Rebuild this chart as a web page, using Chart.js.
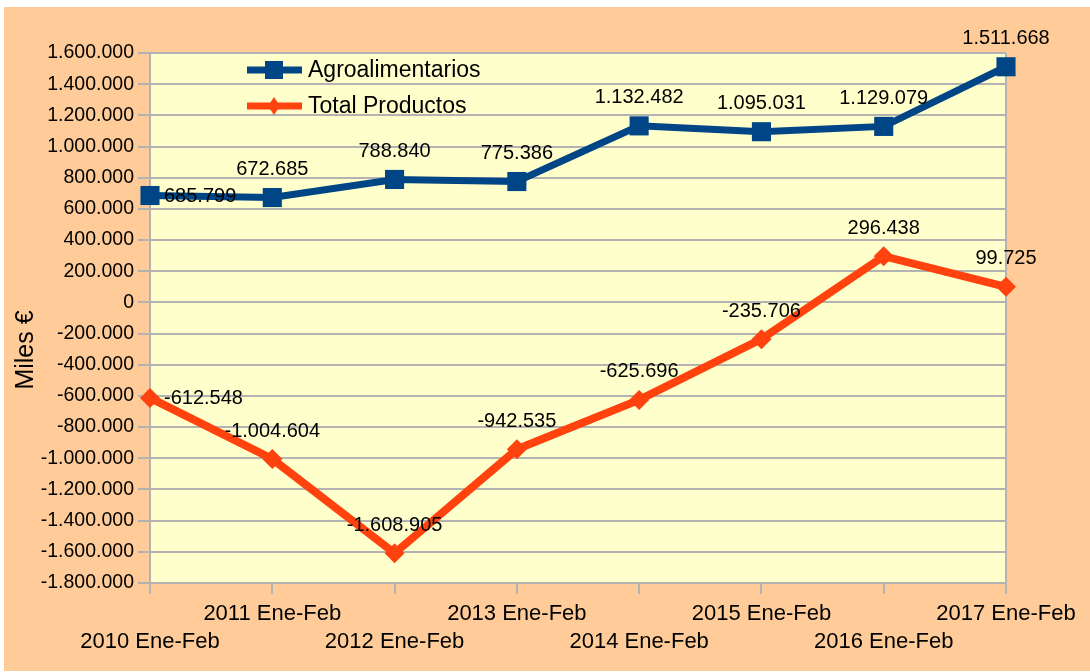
<!DOCTYPE html>
<html><head><meta charset="utf-8">
<script src="https://cdn.jsdelivr.net/npm/chart.js@4"></script>
<style>html,body{margin:0;padding:0;background:#fff;overflow:hidden}#wrap{width:1090px;height:672px;position:relative}</style>
</head><body><div id="wrap"><canvas id="c" width="1090" height="672"></canvas></div>
<script>
const categories = ['2010 Ene-Feb','2011 Ene-Feb','2012 Ene-Feb','2013 Ene-Feb','2014 Ene-Feb','2015 Ene-Feb','2016 Ene-Feb','2017 Ene-Feb'];
const agroalimentarios = [685799, 672685, 788840, 775386, 1132482, 1095031, 1129079, 1511668];
const totalProductos = [-612548, -1004604, -1608905, -942535, -625696, -235706, 296438, 99725];
const seriesNames = ['Agroalimentarios', 'Total Productos'];
const yMin = -1800000, yMax = 1600000, yStep = 200000;
const yAxisTitle = 'Miles €';

const FONT = "'Liberation Sans', Arial, sans-serif";
const BLUE = '#004586', ORANGE = '#ff420e', GRID = '#b3b3b3';

function fmt(v) {
  const neg = v < 0; let s = String(Math.round(Math.abs(v)));
  s = s.replace(/\B(?=(\d{3})+(?!\d))/g, '.');
  return (neg ? '-' : '') + s;
}

const bgPlugin = {
  id: 'bg',
  beforeDraw(chart) {
    const {ctx, chartArea: a} = chart;
    ctx.save();
    ctx.fillStyle = '#ffffff'; ctx.fillRect(0, 0, chart.width, chart.height);
    ctx.fillStyle = '#ffcc99'; ctx.fillRect(4, 7, chart.width - 4, chart.height - 8);
    ctx.fillStyle = '#ffffcc'; ctx.fillRect(a.left, a.top, a.right - a.left, a.bottom - a.top);
    ctx.restore();
  },
  beforeDatasetsDraw(chart) {
    const {ctx, chartArea: a} = chart;
    ctx.save();
    ctx.strokeStyle = GRID; ctx.lineWidth = 2;
    ctx.beginPath(); ctx.moveTo(a.right, a.top); ctx.lineTo(a.right, a.bottom); ctx.stroke();
    ctx.restore();
  }
};

const labelPlugin = {
  id: 'vals',
  afterDatasetsDraw(chart) {
    const ctx = chart.ctx;
    ctx.save();
    ctx.font = '20px ' + FONT; ctx.fillStyle = '#000';
    chart.data.datasets.forEach((ds, di) => {
      const meta = chart.getDatasetMeta(di);
      meta.data.forEach((pt, i) => {
        const t = fmt(ds.data[i]);
        if (i === 0) {
          ctx.textAlign = 'left'; ctx.textBaseline = 'middle';
          ctx.fillText(t, pt.x + 14, pt.y + 1);
        } else {
          ctx.textAlign = 'center'; ctx.textBaseline = 'middle';
          ctx.fillText(t, pt.x, pt.y - 28);
        }
      });
    });
    // legend
    const rows = [70, 106];
    chart.data.datasets.forEach((ds, di) => {
      const y = rows[di];
      ctx.strokeStyle = ds.borderColor; ctx.lineWidth = 7;
      ctx.beginPath(); ctx.moveTo(247, y); ctx.lineTo(302, y); ctx.stroke();
      ctx.fillStyle = ds.borderColor;
      if (di === 0) { ctx.fillRect(265, y - 9, 18, 18); }
      else { ctx.beginPath(); ctx.moveTo(274, y - 9); ctx.lineTo(280, y); ctx.lineTo(274, y + 9); ctx.lineTo(268, y); ctx.closePath(); ctx.fill(); }
      ctx.fillStyle = '#000'; ctx.font = '23px ' + FONT; ctx.textAlign = 'left'; ctx.textBaseline = 'middle';
      ctx.fillText(ds.label, 308, y + 1);
    });
    // y title
    ctx.translate(26, 350); ctx.rotate(-Math.PI / 2);
    ctx.font = '25px ' + FONT; ctx.textAlign = 'center'; ctx.textBaseline = 'middle'; ctx.fillStyle = '#000';
    ctx.fillText(yAxisTitle, 0, 0);
    ctx.restore();
  }
};

new Chart(document.getElementById('c'), {
  type: 'line',
  data: {
    labels: categories,
    datasets: [
      { label: seriesNames[0], data: agroalimentarios, borderColor: BLUE, backgroundColor: BLUE,
        borderWidth: 7, pointStyle: 'rect', pointRadius: 13.5, pointBackgroundColor: BLUE, pointBorderWidth: 0,
        tension: 0, clip: false },
      { label: seriesNames[1], data: totalProductos, borderColor: ORANGE, backgroundColor: ORANGE,
        borderWidth: 8, pointStyle: 'rectRot', pointRadius: 10, pointBackgroundColor: ORANGE, pointBorderWidth: 0,
        tension: 0, clip: false }
    ]
  },
  options: {
    responsive: false, animation: false, devicePixelRatio: 1,
    layout: { padding: { top: 53, right: 84, bottom: 0, left: 0 } },
    plugins: { legend: { display: false }, tooltip: { enabled: false } },
    scales: {
      x: {
        ticks: { autoSkip: false, maxRotation: 0, minRotation: 0, color: '#000', padding: 6,
          font: { family: FONT, size: 22, lineHeight: 1.27 },
          callback(v, i) { return i % 2 === 0 ? ['', categories[i]] : [categories[i]]; } },
        grid: { drawOnChartArea: false, color: GRID, lineWidth: 2, tickLength: 11 },
        border: { color: GRID, width: 2 },
        afterFit(s) { s.height = 89; }
      },
      y: {
        min: yMin, max: yMax,
        ticks: { stepSize: yStep, color: '#000', padding: 4, font: { family: FONT, size: 19.5 }, callback: v => fmt(v) },
        grid: { color: GRID, lineWidth: 2, tickLength: 12 },
        border: { color: GRID, width: 2 },
        afterFit(s) { s.width = 150; }
      }
    }
  },
  plugins: [bgPlugin, labelPlugin]
});
</script></body></html>
